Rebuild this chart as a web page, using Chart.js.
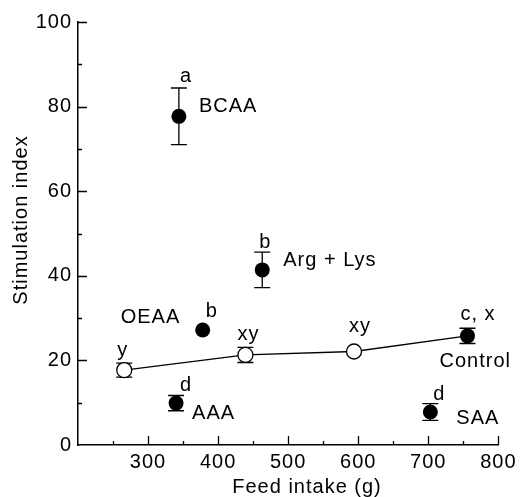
<!DOCTYPE html>
<html><head><meta charset="utf-8">
<script src="https://cdn.jsdelivr.net/npm/chart.js@4/dist/chart.umd.min.js"></script>
<style>html,body{margin:0;padding:0;background:#fff}#wrap{width:520px;height:497px;position:relative}</style>
</head><body><div id="wrap"><canvas id="c" width="520" height="497"></canvas></div>
<script>
// ---- data ----
const treatmentNames   = ['BCAA', 'Arg + Lys', 'OEAA', 'AAA', 'SAA'];
const treatmentIntake  = [344, 463, 378, 340, 703];
const treatmentIndex   = [77.7, 41.4, 27.2, 9.9, 7.8];
const treatmentSE      = [6.7, 4.2, 0, 1.8, 2.0];
const treatmentLetters = ['a', 'b', 'b', 'd', 'd'];

const controlName    = 'Control';
const controlIntake  = [266, 439, 594, 756];
const controlIndex   = [17.7, 21.3, 22.1, 25.8];
const controlSE      = [1.65, 1.8, 0, 1.8];
const controlLetters = ['y', 'xy', 'xy', 'c, x'];

const xTitle = 'Feed intake (g)';
const yTitle = 'Stimulation index';
const xMin = 200, xMax = 800, xStep = 100;
const yMin = 0, yMax = 100, yStep = 20;

// ---- layout / style (pixel offsets of annotation text relative to each point) ----
const FONT = "'Liberation Sans', Arial, Helvetica, sans-serif";
const treatmentLetterOffset = [[1,-34],[-3,-22],[3,-13],[4,-12],[3,-12]];
const treatmentNameOffset   = [[20,-4],[21,-4],[-82,-7],[16,16],[26,12]];
const controlLetterOffset   = [[-7,-14.5],[-8,-14.5],[-5,-20],[-7,-16]];
const controlNameOffset     = [-28, 31];

const lastC = controlIntake.length - 1;

const spacingPlugin = {
  id: 'spacing',
  beforeDraw(chart) { chart.ctx.letterSpacing = '1px'; }
};

const errorBars = {
  id: 'errorBars',
  beforeDatasetsDraw(chart) {
    const {ctx, scales: {x, y}} = chart;
    ctx.save();
    ctx.strokeStyle = '#000';
    ctx.lineWidth = 1.3;
    const draw = (xs, ys, es) => xs.forEach((v, i) => {
      if (!es[i]) return;
      const px = x.getPixelForValue(v);
      const t = y.getPixelForValue(ys[i] + es[i]);
      const b = y.getPixelForValue(ys[i] - es[i]);
      ctx.beginPath();
      ctx.moveTo(px, t); ctx.lineTo(px, b);
      ctx.moveTo(px - 8, t); ctx.lineTo(px + 8, t);
      ctx.moveTo(px - 8, b); ctx.lineTo(px + 8, b);
      ctx.stroke();
    });
    draw(treatmentIntake, treatmentIndex, treatmentSE);
    draw(controlIntake, controlIndex, controlSE);
    ctx.restore();
  }
};

const axisDecor = {
  id: 'axisDecor',
  afterDraw(chart) {
    const {ctx, scales: {x, y}, chartArea: a} = chart;
    ctx.save();
    ctx.strokeStyle = '#000';
    ctx.lineWidth = 1.3;
    ctx.beginPath();
    for (let v = yMin + yStep / 2; v <= yMax; v += yStep / 2) {
      const py = Math.round(y.getPixelForValue(v)) + 0.5;
      const major = Math.abs(v % yStep) < 1e-6;
      ctx.moveTo(a.left, py); ctx.lineTo(a.left + (major ? 9 : 4), py);
    }
    for (let v = xMin + xStep / 2; v <= xMax; v += xStep / 2) {
      const px = Math.round(x.getPixelForValue(v)) + 0.5;
      const major = Math.abs(v % xStep) < 1e-6;
      ctx.moveTo(px, a.bottom); ctx.lineTo(px, a.bottom - (major ? 9 : 4));
    }
    ctx.stroke();

    // annotation text
    ctx.fillStyle = '#000';
    ctx.font = '20px ' + FONT;
    ctx.letterSpacing = '1px';
    ctx.textBaseline = 'alphabetic';
    ctx.textAlign = 'left';
    treatmentIntake.forEach((v, i) => {
      const px = x.getPixelForValue(v), py = y.getPixelForValue(treatmentIndex[i]);
      ctx.fillText(treatmentLetters[i], px + treatmentLetterOffset[i][0], py + treatmentLetterOffset[i][1]);
      ctx.fillText(treatmentNames[i], px + treatmentNameOffset[i][0], py + treatmentNameOffset[i][1]);
    });
    controlIntake.forEach((v, i) => {
      const px = x.getPixelForValue(v), py = y.getPixelForValue(controlIndex[i]);
      ctx.fillText(controlLetters[i], px + controlLetterOffset[i][0], py + controlLetterOffset[i][1]);
    });
    {
      const px = x.getPixelForValue(controlIntake[lastC]), py = y.getPixelForValue(controlIndex[lastC]);
      ctx.fillText(controlName, px + controlNameOffset[0], py + controlNameOffset[1]);
    }

    // axis titles
    ctx.textAlign = 'center';
    ctx.fillText(xTitle, 307, 493);
    ctx.translate(21, 220);
    ctx.rotate(-Math.PI / 2);
    ctx.textBaseline = 'middle';
    ctx.fillText(yTitle, 0, 0);
    ctx.restore();
  }
};

const lineData = controlIntake.map((v, i) => ({x: v, y: controlIndex[i]}));
const filledData = [{x: controlIntake[lastC], y: controlIndex[lastC]}]
  .concat(treatmentIntake.map((v, i) => ({x: v, y: treatmentIndex[i]})));

new Chart(document.getElementById('c'), {
  type: 'scatter',
  data: {
    datasets: [
      {
        data: lineData,
        showLine: true,
        borderColor: '#000',
        borderWidth: 1.3,
        pointRadius: c => c.dataIndex === lastC ? 0 : 7.5,
        pointBackgroundColor: '#fff',
        pointBorderColor: '#000',
        pointBorderWidth: 1.3,
        order: 2
      },
      {
        data: filledData,
        pointRadius: 7.5,
        pointBackgroundColor: '#000',
        pointBorderColor: '#000',
        pointBorderWidth: 0,
        order: 1
      }
    ]
  },
  options: {
    responsive: false,
    animation: false,
    events: [],
    layout: {padding: {left: 0, top: 22, right: 17, bottom: 0}},
    plugins: {legend: {display: false}, tooltip: {enabled: false}},
    scales: {
      x: {
        type: 'linear', min: xMin, max: xMax,
        grid: {display: false, drawTicks: false},
        border: {display: true, color: '#000', width: 1.5},
        ticks: {
          stepSize: xStep, color: '#000', padding: 5, maxRotation: 0,
          font: {size: 20, family: FONT},
          callback: v => v === xMin ? '' : v
        },
        afterFit: s => { s.height = 52; }
      },
      y: {
        type: 'linear', min: yMin, max: yMax,
        grid: {display: false, drawTicks: false},
        border: {display: true, color: '#000', width: 1.5},
        ticks: {stepSize: yStep, color: '#000', padding: 6, font: {size: 20, family: FONT}},
        afterFit: s => { s.width = 78; }
      }
    }
  },
  plugins: [spacingPlugin, errorBars, axisDecor]
});
</script>
</body></html>
